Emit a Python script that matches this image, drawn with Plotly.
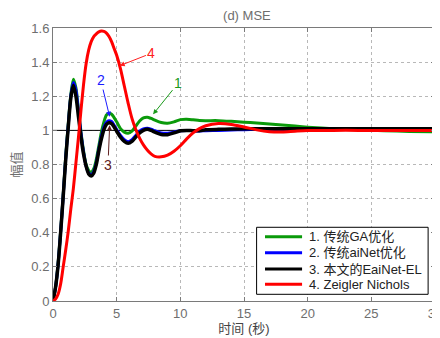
import plotly.graph_objects as go

t = [0, 0.2, 0.4, 0.6, 0.8, 1.0, 1.2, 1.4, 1.6, 1.8, 2.0, 2.2, 2.4, 2.6, 2.8, 3.0,
     3.2, 3.4, 3.6, 3.8, 4.0, 4.2, 4.4, 4.6, 4.8, 5.0, 5.3, 5.6, 5.9, 6.2, 6.5, 6.8,
     7.1, 7.4, 7.7, 8.0, 8.5, 9.0, 9.5, 10, 10.5, 11, 11.5, 12, 13, 14, 15, 16, 17,
     18, 19, 20, 22, 24, 26, 28, 30]

ga = [0, 0.08, 0.22, 0.41, 0.62, 0.85, 1.04, 1.21, 1.30, 1.25, 1.12, 0.99, 0.88, 0.80, 0.765, 0.755,
      0.775, 0.83, 0.91, 0.99, 1.05, 1.09, 1.10, 1.095, 1.075, 1.05, 1.01, 0.99, 0.983, 0.995, 1.025, 1.055,
      1.073, 1.077, 1.07, 1.06, 1.046, 1.042, 1.05, 1.063, 1.065, 1.062, 1.058, 1.057, 1.057, 1.053, 1.048, 1.043, 1.037,
      1.031, 1.025, 1.019, 1.01, 1.004, 0.998, 0.994, 0.991]

ainet = [0, 0.08, 0.215, 0.405, 0.615, 0.84, 1.03, 1.20, 1.28, 1.235, 1.11, 0.98, 0.87, 0.79, 0.75, 0.74,
         0.76, 0.81, 0.89, 0.965, 1.02, 1.048, 1.057, 1.052, 1.03, 1.005, 0.97, 0.945, 0.934, 0.945, 0.97, 0.995,
         1.008, 1.012, 1.007, 0.998, 0.985, 0.983, 0.99, 0.998, 1.0, 0.998, 0.997, 0.998, 1.0, 1.002, 1.004, 1.006, 1.007,
         1.008, 1.008, 1.008, 1.008, 1.008, 1.008, 1.008, 1.008]

eainet = [0, 0.08, 0.21, 0.40, 0.61, 0.83, 1.02, 1.19, 1.265, 1.20, 1.08, 0.96, 0.86, 0.79, 0.745, 0.733,
          0.75, 0.80, 0.88, 0.95, 1.005, 1.035, 1.045, 1.04, 1.02, 0.995, 0.96, 0.935, 0.924, 0.935, 0.96, 0.985,
          1.0, 1.006, 1.0, 0.99, 0.976, 0.975, 0.985, 0.998, 1.0, 0.998, 0.998, 1.003, 1.006, 1.008, 1.01, 1.01, 1.01,
          1.01, 1.01, 1.01, 1.01, 1.01, 1.01, 1.01, 1.01]

zn = [0, 0.012, 0.04, 0.10, 0.20, 0.30, 0.41, 0.54, 0.66, 0.81, 0.96, 1.12, 1.27, 1.39, 1.47, 1.52,
      1.55, 1.565, 1.577, 1.582, 1.58, 1.57, 1.55, 1.52, 1.48, 1.44, 1.36, 1.26, 1.16, 1.07, 1.005, 0.955,
      0.915, 0.885, 0.862, 0.848, 0.845, 0.855, 0.878, 0.91, 0.95, 0.985, 1.01, 1.027, 1.04, 1.035, 1.02, 1.003, 0.992,
      0.99, 0.995, 0.999, 1.0, 1.0, 1.0, 1.0, 1.0]

names = ["1. 传统GA优化", "2. 传统aiNet优化", "3. 本文的EaiNet-EL", "4. Zeigler Nichols"]
colors = ["#0a9a0a", "#0000ff", "#000000", "#ff0000"]
widths = [3, 3, 3.5, 3]
series = [ga, ainet, eainet, zn]

x_ticks = [0, 5, 10, 15, 20, 25, 30]
y_ticks = [0, 0.2, 0.4, 0.6, 0.8, 1.0, 1.2, 1.4, 1.6]

ref_x = [0, 30]
ref_y = [1, 1]

font_fam = "Liberation Sans, Arial, Noto Sans CJK SC, sans-serif"

fig = go.Figure()
fig.add_trace(go.Scatter(x=ref_x, y=ref_y, mode="lines", line=dict(color="black", width=1),
                         showlegend=False, hoverinfo="skip"))
for n, c, w, s in zip(names, colors, widths, series):
    fig.add_trace(go.Scatter(x=t, y=s, mode="lines", name=n, showlegend=False,
                             line=dict(color=c, width=w, shape="spline", smoothing=0.8)))

# callout annotations: (label, color, head_x, head_y, text_x, text_y)
ann = [
    ("4", "#ff2020", 5.24, 1.379, 7.73, 1.452),
    ("1", "#1a9a1a", 7.86, 1.094, 9.82, 1.276),
    ("2", "#1a1aff", 4.45, 1.08, 3.75, 1.295),
    ("3", "#602020", 4.45, 1.03, 4.32, 0.797),
]
for lab, col, hx, hy, tx, ty in ann:
    fig.add_annotation(x=hx, y=hy, ax=tx, ay=ty, axref="x", ayref="y", xref="x", yref="y",
                       text=lab, showarrow=True, arrowhead=2, arrowsize=1, arrowwidth=1,
                       arrowcolor=col, font=dict(color=col, size=14, family=font_fam))

# legend box (paper coordinates)
leg_x0, leg_x1, leg_y0, leg_y1 = 0.533, 0.982, 0.0245, 0.270
row_y = [0.2355, 0.1769, 0.1172, 0.0612]
fig.add_shape(type="rect", xref="paper", yref="paper", x0=leg_x0, x1=leg_x1, y0=leg_y0, y1=leg_y1,
              line=dict(color="black", width=1), fillcolor="white", layer="above")
for n, c, ry in zip(names, colors, row_y):
    fig.add_shape(type="line", xref="paper", yref="paper", x0=0.555, x1=0.652, y0=ry, y1=ry,
                  line=dict(color=c, width=3), layer="above")
    fig.add_annotation(xref="paper", yref="paper", x=0.665, y=ry, xanchor="left", yanchor="middle",
                       text=n, showarrow=False, font=dict(size=13, color="#222222", family=font_fam))

axis_common = dict(showline=True, linecolor="#7a7a7a", linewidth=1, mirror="ticks",
                   ticks="inside", ticklen=4, tickcolor="#7a7a7a", automargin=False,
                   showgrid=True, gridcolor="#b8b8b8", griddash="dot", gridwidth=1,
                   zeroline=False, ticklabeloverflow="allow",
                   tickfont=dict(size=13, color="#6e6e6e", family=font_fam))

fig.update_xaxes(range=[0, 30], tickvals=x_ticks,
                 title=dict(text="时间 (秒)", font=dict(size=13, color="#444444", family=font_fam), standoff=4),
                 **axis_common)
fig.update_yaxes(range=[0, 1.6], tickvals=y_ticks,
                 title=dict(text="幅值", font=dict(size=13, color="#6e6e6e", family=font_fam), standoff=6),
                 **axis_common)

# the page body adds an 8px offset, so the canvas is 8px smaller and margins shifted
fig.update_layout(
    width=432, height=330,
    margin=dict(l=45, r=5, t=20, b=37, autoexpand=False),
    paper_bgcolor="white", plot_bgcolor="white",
    title=dict(text="(d) MSE", x=0.553, xanchor="center", y=0.978, yanchor="middle",
               font=dict(size=13, color="#6e6e6e", family=font_fam)),
    showlegend=False,
)

fig.write_html("out.html")
